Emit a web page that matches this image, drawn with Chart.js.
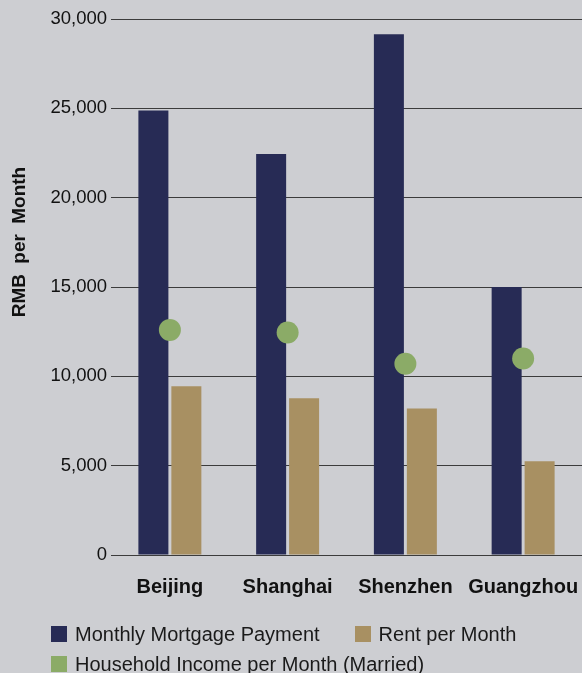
<!DOCTYPE html>
<html>
<head>
<meta charset="utf-8">
<script src="https://cdn.jsdelivr.net/npm/chart.js@4.4.1/dist/chart.umd.min.js"></script>
<style>
    html, body { margin: 0; padding: 0; background: #cdced2; }
    #wrap { position: relative; width: 582px; height: 673px; background: #cdced2; overflow: hidden; }
    #chart { position: absolute; left: 0; top: 0; }
    #legend {
        position: absolute; left: 51px; top: 619px; width: 500px;
        display: flex; flex-wrap: wrap; column-gap: 35px;
        font-family: "Liberation Sans", Arial, sans-serif; font-size: 20px; color: #1a1a1a;
    }
    .item { display: flex; align-items: center; height: 30px; line-height: 30px; white-space: nowrap; }
    .box { width: 16px; height: 16px; margin-right: 8px; flex: none; }
</style>
</head>
<body>
<div id="wrap">
    <canvas id="chart" width="582" height="673"></canvas>
    <div id="legend"></div>
</div>
<script>
    // Data
    const cities = ['Beijing', 'Shanghai', 'Shenzhen', 'Guangzhou'];
    const mortgage = [24880, 22450, 29150, 15000];
    const rent = [9450, 8780, 8200, 5250];
    const income = [12600, 12450, 10700, 11000];
    const yTicks = [0, 5000, 10000, 15000, 20000, 25000, 30000];

    const navy = '#272b55';
    const tan = '#a89062';
    const green = '#8bab67';
    const fontFamily = '"Liberation Sans", Arial, sans-serif';

    // Rotated y axis title, placed like the original (not centred on the axis)
    const yTitlePlugin = {
        id: 'yTitle',
        afterDraw(chart) {
            const ctx = chart.ctx;
            ctx.save();
            ctx.translate(20, 242);
            ctx.rotate(-Math.PI / 2);
            ctx.font = 'bold 19px ' + fontFamily;
            if ('wordSpacing' in ctx) ctx.wordSpacing = '5px';
            ctx.fillStyle = '#111';
            ctx.textAlign = 'center';
            ctx.textBaseline = 'middle';
            ctx.fillText('RMB per Month', 0, 0);
            ctx.restore();
        }
    };

    const ctx = document.getElementById('chart').getContext('2d');
    new Chart(ctx, {
        type: 'bar',
        data: {
            labels: cities,
            datasets: [
                {
                    type: 'line',
                    label: 'Household Income per Month (Married)',
                    data: income,
                    showLine: false,
                    pointRadius: 11,
                    pointHoverRadius: 11,
                    pointBackgroundColor: green,
                    pointBorderWidth: 0,
                    backgroundColor: green,
                    order: 0
                },
                {
                    label: 'Monthly Mortgage Payment',
                    data: mortgage,
                    backgroundColor: navy,
                    borderWidth: 0,
                    categoryPercentage: 0.56,
                    barPercentage: 0.91,
                    order: 1
                },
                {
                    label: 'Rent per Month',
                    data: rent,
                    backgroundColor: tan,
                    borderWidth: 0,
                    categoryPercentage: 0.56,
                    barPercentage: 0.91,
                    order: 2
                }
            ]
        },
        options: {
            responsive: false,
            animation: false,
            devicePixelRatio: 1,
            layout: { autoPadding: false, padding: { top: 19, bottom: 54, left: 0, right: 0 } },
            plugins: {
                legend: { display: false },
                tooltip: { enabled: false }
            },
            scales: {
                x: {
                    afterFit(scale) {
                        // let the last label run to the canvas edge like the original
                        scale.paddingLeft = 0;
                        scale.paddingRight = 0;
                    },
                    grid: { display: false, drawTicks: false },
                    border: { display: false },
                    ticks: {
                        padding: 20,
                        autoSkip: false,
                        maxRotation: 0,
                        minRotation: 0,
                        color: '#111',
                        font: { family: fontFamily, size: 20, weight: 'bold' }
                    }
                },
                y: {
                    min: 0,
                    max: 30000,
                    afterFit(scale) { scale.width = 111; },
                    afterBuildTicks(scale) { scale.ticks = yTicks.map(v => ({ value: v })); },
                    grid: { color: '#3c3c3c', lineWidth: 1, drawTicks: false },
                    border: { display: false },
                    ticks: {
                        padding: 4,
                        color: '#111',
                        font: { family: fontFamily, size: 18.5 },
                        callback: v => v.toLocaleString('en-US')
                    }
                }
            }
        },
        plugins: [yTitlePlugin]
    });

    // HTML legend in the original order
    const legendItems = [
        ['Monthly Mortgage Payment', navy],
        ['Rent per Month', tan],
        ['Household Income per Month (Married)', green]
    ];
    const legend = document.getElementById('legend');
    legendItems.forEach(([text, color]) => {
        const item = document.createElement('div');
        item.className = 'item';
        const box = document.createElement('span');
        box.className = 'box';
        box.style.background = color;
        item.appendChild(box);
        item.appendChild(document.createTextNode(text));
        legend.appendChild(item);
    });
</script>
</body>
</html>
